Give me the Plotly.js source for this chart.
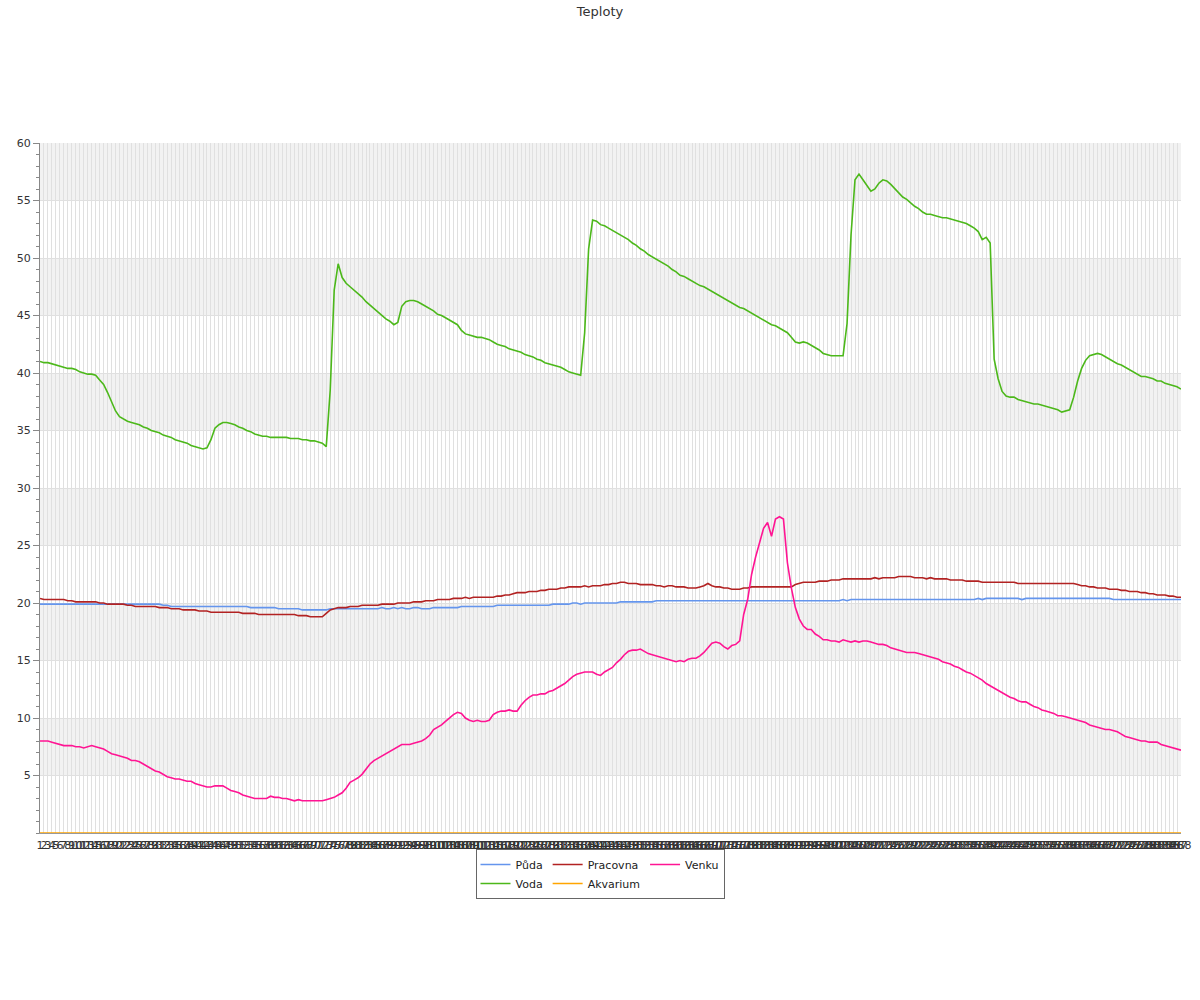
<!DOCTYPE html>
<html>
<head>
<meta charset="utf-8">
<script src="https://cdn.plot.ly/plotly-3.0.1.min.js"></script>
<style>html,body{margin:0;padding:0;background:#fff;}#chart{width:1200px;height:1000px;}</style>
</head>
<body>
<div id="chart"></div>
<script>
// ---- data ----
var titleText = "Teploty";
var seriesNames = ["Půda", "Voda", "Pracovna", "Akvarium", "Venku"];

var categories = [];
for (var k = 1; k <= 288; k++) categories.push(String(k));

var puda = [
19.9,19.9,19.9,19.9,19.9,19.9,19.9,19.9,19.9,19.9,
19.9,19.9,19.9,19.9,19.9,19.9,19.9,19.9,19.9,19.9,
19.9,19.9,19.9,19.9,19.9,19.9,19.9,19.9,19.9,19.9,
19.9,19.8,19.8,19.7,19.7,19.7,19.7,19.7,19.7,19.7,
19.7,19.7,19.7,19.7,19.7,19.7,19.7,19.7,19.7,19.7,
19.7,19.7,19.7,19.6,19.6,19.6,19.6,19.6,19.6,19.6,
19.5,19.5,19.5,19.5,19.5,19.5,19.4,19.4,19.4,19.4,
19.4,19.4,19.4,19.5,19.5,19.5,19.5,19.5,19.5,19.5,
19.5,19.5,19.5,19.5,19.5,19.5,19.6,19.5,19.5,19.6,
19.5,19.6,19.5,19.5,19.6,19.6,19.5,19.5,19.5,19.6,
19.6,19.6,19.6,19.6,19.6,19.6,19.7,19.7,19.7,19.7,
19.7,19.7,19.7,19.7,19.7,19.8,19.8,19.8,19.8,19.8,
19.8,19.8,19.8,19.8,19.8,19.8,19.8,19.8,19.8,19.9,
19.9,19.9,19.9,19.9,20.0,20.0,19.9,20.0,20.0,20.0,
20.0,20.0,20.0,20.0,20.0,20.0,20.1,20.1,20.1,20.1,
20.1,20.1,20.1,20.1,20.1,20.2,20.2,20.2,20.2,20.2,
20.2,20.2,20.2,20.2,20.2,20.2,20.2,20.2,20.2,20.2,
20.2,20.2,20.2,20.2,20.2,20.2,20.2,20.2,20.2,20.2,
20.2,20.2,20.2,20.2,20.2,20.2,20.2,20.2,20.2,20.2,
20.2,20.2,20.2,20.2,20.2,20.2,20.2,20.2,20.2,20.2,
20.2,20.2,20.3,20.2,20.3,20.3,20.3,20.3,20.3,20.3,
20.3,20.3,20.3,20.3,20.3,20.3,20.3,20.3,20.3,20.3,
20.3,20.3,20.3,20.3,20.3,20.3,20.3,20.3,20.3,20.3,
20.3,20.3,20.3,20.3,20.3,20.3,20.4,20.3,20.4,20.4,
20.4,20.4,20.4,20.4,20.4,20.4,20.4,20.3,20.4,20.4,
20.4,20.4,20.4,20.4,20.4,20.4,20.4,20.4,20.4,20.4,
20.4,20.4,20.4,20.4,20.4,20.4,20.4,20.4,20.4,20.4,
20.3,20.3,20.3,20.3,20.3,20.3,20.3,20.3,20.3,20.3,
20.3,20.3,20.3,20.3,20.3,20.3,20.3,20.3
];

var voda = [
41.0,40.9,40.9,40.8,40.7,40.6,40.5,40.4,40.4,40.3,
40.1,40.0,39.9,39.9,39.8,39.4,39.0,38.3,37.5,36.7,
36.2,36.0,35.8,35.7,35.6,35.5,35.3,35.2,35.0,34.9,
34.8,34.6,34.5,34.4,34.2,34.1,34.0,33.9,33.7,33.6,
33.5,33.4,33.5,34.2,35.2,35.5,35.7,35.7,35.6,35.5,
35.3,35.2,35.0,34.9,34.7,34.6,34.5,34.5,34.4,34.4,
34.4,34.4,34.4,34.3,34.3,34.3,34.2,34.2,34.1,34.1,
34.0,33.9,33.6,38.5,47.2,49.5,48.3,47.8,47.5,47.2,
46.9,46.6,46.2,45.9,45.6,45.3,45.0,44.7,44.5,44.2,
44.4,45.8,46.2,46.3,46.3,46.2,46.0,45.8,45.6,45.4,
45.1,45.0,44.8,44.6,44.4,44.2,43.7,43.4,43.3,43.2,
43.1,43.1,43.0,42.9,42.7,42.5,42.4,42.3,42.1,42.0,
41.9,41.8,41.6,41.5,41.4,41.2,41.1,40.9,40.8,40.7,
40.6,40.5,40.3,40.1,40.0,39.9,39.8,43.5,50.8,53.3,
53.2,52.9,52.8,52.6,52.4,52.2,52.0,51.8,51.6,51.3,
51.1,50.8,50.6,50.3,50.1,49.9,49.7,49.5,49.3,49.0,
48.8,48.5,48.4,48.2,48.0,47.8,47.6,47.5,47.3,47.1,
46.9,46.7,46.5,46.3,46.1,45.9,45.7,45.6,45.4,45.2,
45.0,44.8,44.6,44.4,44.2,44.1,43.9,43.7,43.5,43.1,
42.7,42.6,42.7,42.6,42.4,42.2,42.0,41.7,41.6,41.5,
41.5,41.5,41.5,44.3,52.0,56.8,57.3,56.8,56.3,55.8,
56.0,56.5,56.8,56.7,56.4,56.0,55.7,55.3,55.1,54.8,
54.5,54.3,54.0,53.8,53.8,53.7,53.6,53.5,53.5,53.4,
53.3,53.2,53.1,53.0,52.8,52.6,52.3,51.6,51.8,51.3,
41.2,39.5,38.4,38.0,37.9,37.9,37.7,37.6,37.5,37.4,
37.3,37.3,37.2,37.1,37.0,36.9,36.8,36.6,36.7,36.8,
37.9,39.3,40.4,41.1,41.5,41.6,41.7,41.6,41.4,41.2,
41.0,40.8,40.7,40.5,40.3,40.1,39.9,39.7,39.7,39.6,
39.5,39.3,39.3,39.1,39.0,38.9,38.8,38.6
];

var pracovna = [
20.4,20.3,20.3,20.3,20.3,20.3,20.3,20.2,20.2,20.1,
20.1,20.1,20.1,20.1,20.1,20.0,20.0,19.9,19.9,19.9,
19.9,19.9,19.8,19.8,19.7,19.7,19.7,19.7,19.7,19.7,
19.6,19.6,19.6,19.5,19.5,19.5,19.4,19.4,19.4,19.4,
19.3,19.3,19.3,19.2,19.2,19.2,19.2,19.2,19.2,19.2,
19.2,19.1,19.1,19.1,19.1,19.0,19.0,19.0,19.0,19.0,
19.0,19.0,19.0,19.0,19.0,18.9,18.9,18.9,18.8,18.8,
18.8,18.8,19.1,19.4,19.5,19.6,19.6,19.6,19.7,19.7,
19.7,19.8,19.8,19.8,19.8,19.8,19.9,19.9,19.9,19.9,
20.0,20.0,20.0,20.0,20.1,20.1,20.1,20.2,20.2,20.2,
20.3,20.3,20.3,20.3,20.4,20.4,20.4,20.5,20.4,20.5,
20.5,20.5,20.5,20.5,20.5,20.6,20.6,20.7,20.7,20.8,
20.9,20.9,20.9,21.0,21.0,21.0,21.1,21.1,21.2,21.2,
21.2,21.3,21.3,21.4,21.4,21.4,21.4,21.5,21.4,21.5,
21.5,21.5,21.6,21.6,21.7,21.7,21.8,21.8,21.7,21.7,
21.7,21.6,21.6,21.6,21.6,21.5,21.5,21.4,21.5,21.5,
21.4,21.4,21.4,21.3,21.3,21.3,21.4,21.5,21.7,21.5,
21.4,21.4,21.3,21.3,21.2,21.2,21.2,21.3,21.3,21.4,
21.4,21.4,21.4,21.4,21.4,21.4,21.4,21.4,21.4,21.4,
21.6,21.7,21.8,21.8,21.8,21.8,21.9,21.9,21.9,22.0,
22.0,22.0,22.1,22.1,22.1,22.1,22.1,22.1,22.1,22.1,
22.2,22.1,22.2,22.2,22.2,22.2,22.3,22.3,22.3,22.3,
22.2,22.2,22.2,22.1,22.2,22.1,22.1,22.1,22.1,22.0,
22.0,22.0,22.0,21.9,21.9,21.9,21.9,21.8,21.8,21.8,
21.8,21.8,21.8,21.8,21.8,21.8,21.7,21.7,21.7,21.7,
21.7,21.7,21.7,21.7,21.7,21.7,21.7,21.7,21.7,21.7,
21.7,21.6,21.5,21.5,21.4,21.4,21.3,21.3,21.3,21.2,
21.2,21.2,21.1,21.1,21.0,21.0,21.0,20.9,20.9,20.8,
20.8,20.7,20.7,20.7,20.6,20.6,20.5,20.5
];

var akvarium = [];
for (var a = 0; a < 288; a++) akvarium.push(0);

var venku = [
8.0,8.0,8.0,7.9,7.8,7.7,7.6,7.6,7.6,7.5,
7.5,7.4,7.5,7.6,7.5,7.4,7.3,7.1,6.9,6.8,
6.7,6.6,6.5,6.3,6.3,6.2,6.0,5.8,5.6,5.4,
5.3,5.1,4.9,4.8,4.7,4.7,4.6,4.5,4.5,4.3,
4.2,4.1,4.0,4.0,4.1,4.1,4.1,3.9,3.7,3.6,
3.5,3.3,3.2,3.1,3.0,3.0,3.0,3.0,3.2,3.1,
3.1,3.0,3.0,2.9,2.8,2.9,2.8,2.8,2.8,2.8,
2.8,2.8,2.9,3.0,3.1,3.3,3.5,3.9,4.4,4.6,
4.8,5.1,5.6,6.0,6.3,6.5,6.7,6.9,7.1,7.3,
7.5,7.7,7.7,7.7,7.8,7.9,8.0,8.2,8.5,9.0,
9.2,9.4,9.7,10.0,10.3,10.5,10.4,10.0,9.8,9.7,
9.8,9.7,9.7,9.8,10.3,10.5,10.6,10.6,10.7,10.6,
10.6,11.1,11.5,11.8,12.0,12.0,12.1,12.1,12.3,12.4,
12.6,12.8,13.0,13.3,13.6,13.8,13.9,14.0,14.0,14.0,
13.8,13.7,14.0,14.2,14.4,14.8,15.1,15.5,15.8,15.9,
15.9,16.0,15.8,15.6,15.5,15.4,15.3,15.2,15.1,15.0,
14.9,15.0,14.9,15.1,15.2,15.2,15.4,15.7,16.1,16.5,
16.6,16.5,16.2,16.0,16.3,16.4,16.7,19.0,20.3,22.5,
24.0,25.2,26.5,27.0,25.8,27.3,27.5,27.3,23.5,21.3,
19.6,18.6,18.0,17.7,17.7,17.3,17.1,16.8,16.8,16.7,
16.7,16.6,16.8,16.7,16.6,16.7,16.6,16.7,16.7,16.6,
16.5,16.4,16.4,16.3,16.1,16.0,15.9,15.8,15.7,15.7,
15.7,15.6,15.5,15.4,15.3,15.2,15.1,14.9,14.8,14.7,
14.5,14.4,14.2,14.0,13.9,13.7,13.5,13.3,13.0,12.8,
12.6,12.4,12.2,12.0,11.8,11.7,11.5,11.4,11.4,11.2,
11.0,10.9,10.7,10.6,10.5,10.4,10.2,10.2,10.1,10.0,
9.9,9.8,9.7,9.6,9.4,9.3,9.2,9.1,9.0,9.0,
8.9,8.8,8.6,8.4,8.3,8.2,8.1,8.0,8.0,7.9,
7.9,7.9,7.7,7.6,7.5,7.4,7.3,7.2
];

var yTickVals = [5,10,15,20,25,30,35,40,45,50,55,60];

// ---- styling ----
var colors = {
  "Půda": "#6495ed",
  "Voda": "#4cb81a",
  "Pracovna": "#b22222",
  "Akvarium": "#ffa500",
  "Venku": "#ff1493"
};
var groups = {"Půda":"g1","Voda":"g1","Pracovna":"g2","Akvarium":"g2","Venku":"g3"};
var seriesData = {"Půda": puda, "Voda": voda, "Pracovna": pracovna, "Akvarium": akvarium, "Venku": venku};

var traces = seriesNames.map(function (n) {
  return {
    type: "scatter",
    mode: "lines",
    name: n,
    x: categories,
    y: seriesData[n],
    legendgroup: groups[n],
    line: {color: colors[n], width: 1.6},
    hoverinfo: "x+y+name"
  };
});

var shapes = [];
[5, 15, 25, 35, 45, 55].forEach(function (b) {
  shapes.push({type: "rect", layer: "below", xref: "paper", x0: 0, x1: 1, yref: "y", y0: b, y1: b + 5,
    fillcolor: "#f2f2f2", line: {width: 0}});
});

var font = "DejaVu Sans, Verdana, sans-serif";
var layout = {
  width: 1200, height: 1000,
  margin: {l: 40, r: 19, t: 143, b: 167},
  paper_bgcolor: "#ffffff", plot_bgcolor: "#ffffff",
  font: {family: font, size: 11, color: "#333"},
  title: {text: titleText, x: 0.5, xanchor: "center", xref: "container", y: 0.989, yanchor: "middle", yref: "container",
    font: {family: font, size: 13, color: "#333"}},
  xaxis: {
    type: "category", categoryorder: "array", categoryarray: categories,
    range: [0, categories.length - 1],
    tickmode: "linear", tick0: 0, dtick: 1, tickangle: 0,
    showgrid: true, gridcolor: "#e0e0e0", gridwidth: 1,
    showline: true, linecolor: "#999", ticks: "", ticklabelstandoff: 2,
    tickfont: {family: font, size: 11, color: "#333"},
    zeroline: false, fixedrange: true
  },
  yaxis: {
    range: [0, 60], tickmode: "array", tickvals: yTickVals,
    ticks: "outside", ticklen: 6, tickcolor: "#888", tickwidth: 1,
    showline: true, linecolor: "#888",
    showgrid: true, gridcolor: "#e0e0e0", zeroline: false,
    tickfont: {family: font, size: 11, color: "#333"},
    minor: {tickmode: "linear", tick0: 0, dtick: 1, ticks: "outside", ticklen: 3, tickcolor: "#888", showgrid: false},
    fixedrange: true
  },
  shapes: shapes,
  showlegend: true,
  legend: {
    orientation: "h", traceorder: "grouped", tracegroupgap: 0, itemwidth: 30,
    xref: "container", x: 0.5, xanchor: "center",
    yref: "container", y: 0.151, yanchor: "top",
    bordercolor: "#666", borderwidth: 1, bgcolor: "#ffffff",
    font: {family: font, size: 11, color: "#222"}
  }
};

Plotly.newPlot("chart", traces, layout, {displayModeBar: false, staticPlot: true});
</script>
</body>
</html>
